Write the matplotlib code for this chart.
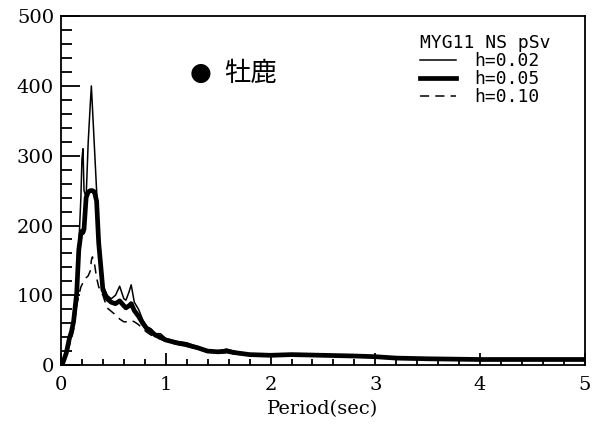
import matplotlib
matplotlib.use("Agg")
import matplotlib.pyplot as plt
from matplotlib.ticker import MultipleLocator
from matplotlib.lines import Line2D

period = [0, 0.02, 0.05, 0.08, 0.1, 0.12, 0.15, 0.17, 0.19, 0.2, 0.21, 0.22, 0.24, 0.26, 0.28, 0.29,
          0.3, 0.32, 0.34, 0.36, 0.4, 0.44, 0.48, 0.52, 0.56, 0.6, 0.62, 0.65, 0.67, 0.7, 0.74, 0.78,
          0.82, 0.86, 0.9, 0.95, 1.0, 1.1, 1.2, 1.3, 1.4, 1.5, 1.58, 1.65, 1.8, 2.0, 2.2, 2.5, 2.8,
          3.0, 3.2, 3.5, 4.0, 4.5, 5.0]
psv_h002 = [0, 5, 20, 42, 52, 70, 115, 170, 240, 295, 310, 250, 240, 320, 375, 400,
            370, 310, 250, 170, 115, 100, 95, 100, 113, 95, 93, 105, 115, 90, 80, 65,
            55, 52, 45, 45, 38, 34, 32, 26, 20, 20, 23, 20, 15, 15, 16, 15, 14,
            13, 11, 9, 9, 8, 8]
psv_h005 = [0, 4, 17, 38, 48, 62, 103, 165, 188, 192, 190, 195, 240, 248, 250, 250,
            250, 248, 235, 175, 108, 95, 90, 88, 92, 85, 82, 85, 88, 78, 70, 60,
            52, 48, 43, 40, 36, 32, 29, 25, 20, 19, 20, 18, 15, 14, 15, 14, 13,
            12, 10, 9, 8, 8, 8]
psv_h010 = [0, 3, 12, 28, 38, 50, 85, 100, 112, 115, 118, 120, 125, 128, 135, 150,
            155, 145, 125, 112, 100, 82, 77, 72, 66, 62, 62, 63, 64, 62, 58, 52,
            47, 43, 40, 37, 34, 30, 27, 23, 19, 17, 18, 16, 14, 13, 14, 13, 12,
            11, 10, 9, 8, 7, 7]

legend_title = "MYG11 NS pSv"
labels = ["h=0.02", "h=0.05", "h=0.10"]
station = "牡鹿"

fig = plt.figure(figsize=(5.92, 4.25), dpi=100)
ax = fig.add_axes([0.103, 0.141, 0.885, 0.821])

ax.plot(period, psv_h002, color="black", lw=1.1)
ax.plot(period, psv_h005, color="black", lw=3.4)
ax.plot(period, psv_h010, color="black", lw=1.1, ls=(0, (6, 4)))

ax.set_xlim(0, 5)
ax.set_ylim(0, 500)
ax.xaxis.set_major_locator(MultipleLocator(1))
ax.xaxis.set_minor_locator(MultipleLocator(0.2))
ax.yaxis.set_major_locator(MultipleLocator(100))
ax.yaxis.set_minor_locator(MultipleLocator(20))
ax.tick_params(axis="y", which="major", direction="in", length=14, width=1.3, pad=5)
ax.tick_params(axis="y", which="minor", direction="in", length=8, width=1.3)
ax.tick_params(axis="x", which="major", direction="in", length=9, width=1.3, pad=8)
ax.tick_params(axis="x", which="minor", direction="in", length=4, width=1.3)
for lab in ax.get_xticklabels() + ax.get_yticklabels():
    lab.set_family("DejaVu Serif")
    lab.set_fontsize(14)
for s in ax.spines.values():
    s.set_linewidth(1.3)

ax.set_xlabel("Period(sec)", family="DejaVu Serif", fontsize=14, labelpad=4)

ax.text(1.33, 418, "●", fontsize=18, family=["DejaVu Sans"], ha="center", va="center")
ax.text(1.56, 418, station, fontsize=19, family=["Noto Sans CJK JP"], ha="left", va="center")

handles = [Line2D([], [], color="black", lw=1.1),
           Line2D([], [], color="black", lw=3.4),
           Line2D([], [], color="black", lw=1.1, ls=(0, (6, 4)))]
leg = ax.legend(handles, labels, title=legend_title, loc="upper left",
                bbox_to_anchor=(0.668, 0.975), frameon=False,
                prop={"family": "DejaVu Sans Mono", "size": 13},
                title_fontproperties={"family": "DejaVu Sans Mono", "size": 13},
                handlelength=2.0, handletextpad=1.0, labelspacing=0.0, borderpad=0.0)
leg._legend_box.align = "left"

fig.savefig("out.png", dpi=100)
